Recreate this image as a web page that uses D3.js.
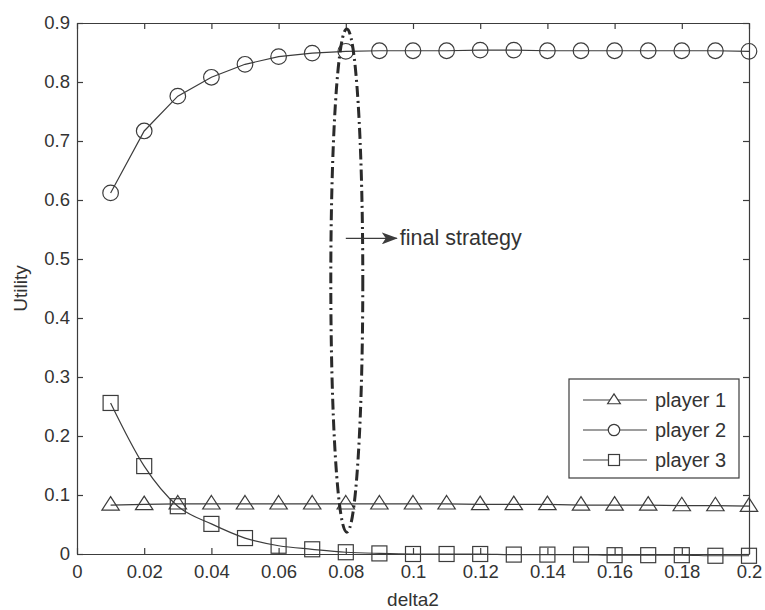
<!DOCTYPE html>
<html>
<head>
<meta charset="utf-8">
<script src="https://cdn.jsdelivr.net/npm/d3@7"></script>
<style>
  body { margin: 0; background: #fff; }
  text { font-family: "Liberation Sans", Arial, sans-serif; fill: #333; }
</style>
</head>
<body>
<div id="chart"></div>
<script>
// data
var xs = [0.01, 0.02, 0.03, 0.04, 0.05, 0.06, 0.07, 0.08, 0.09, 0.10,
          0.11, 0.12, 0.13, 0.14, 0.15, 0.16, 0.17, 0.18, 0.19, 0.20];
var player1 = [0.083, 0.084, 0.085, 0.085, 0.085, 0.085, 0.085, 0.085, 0.085, 0.085,
               0.085, 0.084, 0.084, 0.084, 0.083, 0.083, 0.083, 0.082, 0.082, 0.081];
var player2 = [0.612, 0.717, 0.776, 0.808, 0.830, 0.843, 0.849, 0.852, 0.853, 0.853,
               0.853, 0.854, 0.854, 0.853, 0.853, 0.853, 0.853, 0.853, 0.853, 0.852];
var player3 = [0.256, 0.149, 0.081, 0.051, 0.027, 0.014, 0.008, 0.003, 0.001, 0.000,
               0.000, 0.000, -0.001, -0.001, -0.001, -0.002, -0.002, -0.002, -0.003, -0.003];
var xTicks = [0, 0.02, 0.04, 0.06, 0.08, 0.1, 0.12, 0.14, 0.16, 0.18, 0.2];
var yTicks = [0, 0.1, 0.2, 0.3, 0.4, 0.5, 0.6, 0.7, 0.8, 0.9];
var seriesNames = ["player 1", "player 2", "player 3"];
var markers = ["triangle", "circle", "square"];
var finalX = 0.08;

var ink = "#3c3c3c";
var W = 765, H = 610;
var margin = {top: 23, right: 16, bottom: 56, left: 77};
var width = W - margin.left - margin.right,
    height = H - margin.top - margin.bottom;

var svg = d3.select("#chart").append("svg")
    .attr("width", W).attr("height", H);
var g = svg.append("g")
    .attr("transform", "translate(" + margin.left + "," + margin.top + ")");

var x = d3.scaleLinear().domain([0, 0.2]).range([0, width]);
var y = d3.scaleLinear().domain([0, 0.9]).range([height, 0]);

var fmt = function(d) { return String(+d.toFixed(2)); };

// axes, matlab style: ticks inside, box all round
var tickLen = 6;
var xAx = g.append("g").attr("transform", "translate(0," + height + ")")
    .call(d3.axisBottom(x).tickValues(xTicks).tickFormat(fmt).tickSizeInner(-tickLen).tickSizeOuter(0).tickPadding(11));
var yAx = g.append("g")
    .call(d3.axisLeft(y).tickValues(yTicks).tickFormat(fmt).tickSizeInner(-tickLen).tickSizeOuter(0).tickPadding(7));
var xTop = g.append("g")
    .call(d3.axisTop(x).tickValues(xTicks).tickFormat("").tickSizeInner(-tickLen).tickSizeOuter(0));
var yRight = g.append("g").attr("transform", "translate(" + width + ",0)")
    .call(d3.axisRight(y).tickValues(yTicks).tickFormat("").tickSizeInner(-tickLen).tickSizeOuter(0));

[xAx, yAx, xTop, yRight].forEach(function(a) {
    a.selectAll("path, line").attr("stroke", ink).attr("stroke-width", 1.2);
    a.selectAll("text").style("font-size", "18.5px").attr("fill", "#333");
});
xAx.selectAll("text").attr("dy", "0.71em");

g.append("text")
    .attr("x", width / 2).attr("y", height + 52)
    .attr("text-anchor", "middle")
    .style("font-size", "19px")
    .text("delta2");

g.append("text")
    .attr("transform", "translate(" + (-50) + "," + (height / 2) + ") rotate(-90)")
    .attr("text-anchor", "middle")
    .style("font-size", "19px")
    .text("Utility");

// series
var series = [player1, player2, player3];
var curves = [d3.curveLinear, d3.curveLinear, d3.curveMonotoneX];

function drawMarker(sel, type, size) {
    if (type === "circle") {
        sel.append("circle").attr("r", size * 0.52);
    } else if (type === "square") {
        sel.append("rect").attr("x", -size / 2).attr("y", -size / 2)
            .attr("width", size).attr("height", size);
    } else {
        var h = size * 0.9;
        sel.append("path").attr("d",
            "M0," + (-h * 0.62) + "L" + (size * 0.58) + "," + (h * 0.38) + "L" + (-size * 0.58) + "," + (h * 0.38) + "Z");
    }
    sel.selectAll("*").attr("fill", "none").attr("stroke", ink).attr("stroke-width", 1.2);
}

series.forEach(function(vals, i) {
    var pts = xs.map(function(d, j) { return [d, vals[j]]; });
    var line = d3.line()
        .x(function(d) { return x(d[0]); })
        .y(function(d) { return y(d[1]); })
        .curve(curves[i]);
    g.append("path").datum(pts)
        .attr("d", line)
        .attr("fill", "none").attr("stroke", ink).attr("stroke-width", 1.2);
    g.selectAll(".m" + i).data(pts).enter().append("g")
        .attr("class", "m" + i)
        .attr("transform", function(d) { return "translate(" + x(d[0]) + "," + y(d[1]) + ")"; })
        .each(function() { drawMarker(d3.select(this), markers[i], 15); });
});

// dash-dot ellipse round the final strategy
g.append("ellipse")
    .attr("cx", x(finalX) + 1)
    .attr("cy", (y(0.89) + y(0.037)) / 2)
    .attr("rx", 16)
    .attr("ry", (y(0.037) - y(0.89)) / 2)
    .attr("fill", "none")
    .attr("stroke", "#2a2a2a")
    .attr("stroke-width", 3)
    .attr("stroke-dasharray", "11,4,2,4");

// annotation arrow
svg.append("defs").append("marker")
    .attr("id", "arr")
    .attr("viewBox", "0 0 16 12")
    .attr("refX", 15).attr("refY", 6)
    .attr("markerWidth", 16).attr("markerHeight", 12)
    .attr("markerUnits", "userSpaceOnUse")
    .attr("orient", "auto")
    .append("path")
    .attr("d", "M0,0L16,6L0,12L4,6Z")
    .attr("fill", ink);

var ay = y(0.535);
g.append("line")
    .attr("x1", x(finalX)).attr("x2", x(finalX) + 51)
    .attr("y1", ay).attr("y2", ay)
    .attr("stroke", ink).attr("stroke-width", 1.2)
    .attr("marker-end", "url(#arr)");
g.append("text")
    .attr("x", x(finalX) + 54).attr("y", ay + 7)
    .style("font-size", "21.5px")
    .text("final strategy");

// legend
var lg = svg.append("g").attr("transform", "translate(569,379)");
lg.append("rect").attr("width", 170).attr("height", 99)
    .attr("fill", "#fff").attr("stroke", ink).attr("stroke-width", 1.2);
seriesNames.forEach(function(name, i) {
    var row = lg.append("g").attr("transform", "translate(0," + (21 + i * 30) + ")");
    row.append("line").attr("x1", 14).attr("x2", 78)
        .attr("stroke", ink).attr("stroke-width", 1.2);
    var m = row.append("g").attr("transform", "translate(45,0)");
    drawMarker(m, markers[i], 11);
    m.selectAll("*").attr("fill", "#fff");
    row.append("text").attr("x", 86).attr("y", 7)
        .style("font-size", "20px")
        .text(name);
});
</script>
</body>
</html>
